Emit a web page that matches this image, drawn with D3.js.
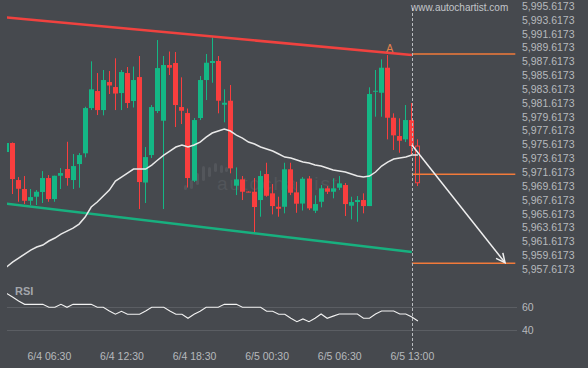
<!DOCTYPE html>
<html>
<head>
<meta charset="utf-8">
<script src="https://cdn.jsdelivr.net/npm/d3@7"></script>
<style>
  html, body { margin: 0; padding: 0; background: #46494e; }
  svg text { font-family: "Liberation Sans", Arial, sans-serif; }
</style>
</head>
<body>
<svg id="chart"></svg>
<script>
// 30 min candles, index 0 .. 68
const open = [
  5974.52, 5975.82, 5970.47, 5969.17, 5967.48, 5968.06, 5968.74, 5970.76, 5967.72, 5971.09,
  5972.06, 5970.47, 5972.78, 5974.33, 5980.87, 5983.33, 5980.58, 5984.63, 5983.91, 5983.04,
  5985.93, 5981.89, 5985.35, 5970.11, 5974.08, 5980.44, 5979.04, 5987.09, 5987.38, 5981.02,
  5980.15, 5970.37, 5979.43, 5984.92, 5987.38, 5987.67, 5981.35, 5981.93, 5969.65, 5970.57,
  5968.80, 5968.78, 5967.58, 5971.34, 5968.55, 5966.61, 5966.61, 5972.02, 5968.69, 5967.07,
  5970.69, 5966.04, 5967.33, 5969.27, 5968.78, 5969.36, 5969.75, 5966.76, 5967.29, 5967.58,
  5966.71, 5983.23, 5983.08, 5986.70, 5979.47, 5976.83, 5976.35, 5979.14, 5975.38];
const close = [
  5975.82, 5970.61, 5969.21, 5967.48, 5968.01, 5968.78, 5970.76, 5967.72, 5971.09, 5971.48,
  5970.76, 5972.49, 5974.08, 5980.87, 5983.58, 5980.58, 5984.92, 5984.13, 5982.97, 5986.08,
  5981.60, 5984.92, 5970.18, 5973.79, 5981.02, 5986.65, 5987.09, 5986.70, 5981.31, 5980.48,
  5970.76, 5979.14, 5984.92, 5987.42, 5987.67, 5981.93, 5981.64, 5972.16, 5970.57, 5968.78,
  5968.70, 5966.57, 5971.05, 5968.20, 5966.71, 5966.32, 5972.02, 5968.64, 5967.05, 5970.66,
  5966.38, 5967.00, 5969.27, 5968.78, 5969.27, 5969.99, 5967.00, 5967.29, 5967.58, 5966.71,
  5982.90, 5983.37, 5986.70, 5979.47, 5976.93, 5976.15, 5979.14, 5975.38, 5970.08];
const high = [
  5975.90, 5975.90, 5970.90, 5971.05, 5969.17, 5969.02, 5971.77, 5971.19, 5971.10, 5972.20,
  5976.00, 5974.23, 5974.37, 5981.06, 5987.62, 5985.93, 5986.37, 5986.22, 5988.06, 5986.37,
  5986.80, 5986.87, 5988.39, 5975.24, 5981.31, 5990.70, 5988.39, 5989.04, 5988.97, 5985.31,
  5980.80, 5979.43, 5985.50, 5988.68, 5991.09, 5988.39, 5983.58, 5984.20, 5972.30, 5971.05,
  5968.85, 5970.76, 5971.81, 5972.97, 5969.89, 5968.06, 5972.97, 5972.97, 5970.22, 5970.90,
  5971.05, 5968.26, 5969.75, 5969.60, 5970.72, 5971.05, 5970.04, 5968.06, 5968.16, 5968.55,
  5983.87, 5986.37, 5987.91, 5988.53, 5980.11, 5979.39, 5981.31, 5981.60, 5976.35];
const low = [
  5974.40, 5968.45, 5967.33, 5967.00, 5966.86, 5966.86, 5967.15, 5967.33, 5967.33, 5969.17,
  5969.65, 5969.17, 5969.36, 5973.75, 5980.58, 5979.86, 5979.82, 5982.90, 5980.58, 5980.58,
  5980.87, 5980.95, 5966.28, 5967.15, 5973.65, 5980.15, 5966.28, 5985.64, 5978.13, 5978.56,
  5969.39, 5970.18, 5979.14, 5982.03, 5984.53, 5980.11, 5978.81, 5971.44, 5968.30, 5967.58,
  5968.70, 5962.77, 5965.17, 5968.06, 5965.51, 5965.17, 5965.66, 5968.30, 5965.74, 5966.06,
  5966.13, 5965.70, 5966.53, 5968.45, 5967.83, 5969.02, 5965.27, 5964.79, 5964.44, 5965.66,
  5966.71, 5979.62, 5979.62, 5976.35, 5974.81, 5974.41, 5975.96, 5974.08, 5969.60];

// moving average (white line)
const maVals = [
  5957.90, 5958.62, 5959.20, 5959.78, 5960.35, 5960.79, 5961.08, 5961.66, 5962.09, 5962.67,
  5963.10, 5963.53, 5964.11, 5965.12, 5966.57, 5967.29, 5968.16, 5969.02, 5970.33, 5970.90,
  5971.48, 5972.06, 5972.06, 5972.06, 5972.64, 5973.36, 5974.08, 5974.66, 5975.24, 5975.53,
  5975.24, 5975.53, 5975.96, 5976.68, 5977.26, 5977.55, 5977.84, 5977.55, 5976.97, 5976.54,
  5975.96, 5975.67, 5975.24, 5974.95, 5974.66, 5974.23, 5973.79, 5973.65, 5973.36, 5973.07,
  5972.93, 5972.64, 5972.49, 5972.20, 5971.91, 5971.77, 5971.63, 5971.34, 5971.05, 5970.90,
  5971.05, 5971.63, 5972.49, 5973.07, 5973.50, 5973.65, 5973.79, 5974.08, 5974.08];

const rsiVals = [
  71.4, 68.2, 64.8, 62.0, 62.0, 62.0, 62.0, 59.5, 59.5, 62.0,
  59.5, 62.0, 62.0, 62.0, 62.0, 59.5, 59.5, 56.4, 53.6, 56.1,
  53.6, 53.6, 53.6, 56.4, 59.5, 59.5, 59.5, 56.4, 53.6, 53.6,
  50.2, 53.6, 56.1, 59.5, 59.5, 59.5, 62.0, 62.0, 62.0, 59.5,
  59.5, 59.5, 59.5, 56.1, 56.1, 53.6, 53.6, 50.2, 47.3, 49.6,
  47.3, 50.2, 53.8, 50.2, 52.0, 53.8, 53.8, 53.8, 53.8, 50.2,
  50.2, 53.8, 56.4, 56.4, 56.4, 53.8, 53.8, 51.3, 47.9];

// pattern lines
const resistIdx = [0, 67], resistPrice = [5993.96, 5988.54];
const supportIdx = [0, 67], supportPrice = [5967.05, 5960.07];
const levelIdx = [67, 84.1], levelPrice = [5988.68, 5971.30, 5958.44];
const forecastIdx = [67, 82.4], forecastPrice = [5975.54, 5958.53];
const patternEnd = 67;

// ticks
const priceTicks = d3.range(0, 20).map(k => 5957.6173 + 2 * k);
const rsiTicks = [40, 60];
const timeIdx = [7, 19, 31, 43, 55, 67];
const timeLabels = ["6/4 06:30", "6/4 12:30", "6/4 18:30", "6/5 00:30", "6/5 06:30", "6/5 13:00"];

const width = 588, height = 368;
const upColor = "#14b785", downColor = "#f93e3e", textColor = "#b6b9bd";

const svg = d3.select("#chart").attr("width", width).attr("height", height);
svg.append("rect").attr("width", width).attr("height", height).attr("fill", "#46494e");

const x = d3.scaleLinear().domain([0, 68]).range([6.5, 417.9]);
const y = d3.scaleLinear().domain([5957.6173, 5995.6173]).range([269, 6]);
const yRsi = d3.scaleLinear().domain([40, 60]).range([330.3, 306.7]);

svg.append("defs").append("clipPath").attr("id", "plot")
  .append("rect").attr("x", 7).attr("y", 0).attr("width", 512).attr("height", 350);

// faint watermark in the middle
const logo = [[184, 185, 190], [190, 180, 189], [196, 173, 185], [202, 166, 181], [208, 167, 177], [214, 163, 172], [220, 165, 173], [225, 167, 172]];
svg.append("g").selectAll("rect").data(logo).join("rect")
  .attr("x", d => d[0]).attr("y", d => d[1])
  .attr("width", 3).attr("height", d => d[2] - d[1])
  .attr("rx", 1.5).attr("fill", "#53565b");
svg.append("text").attr("x", 217).attr("y", 190)
  .attr("font-size", 19).attr("letter-spacing", 2)
  .attr("fill", "#52555a").text("autochartist");

// RSI grid
svg.append("g").selectAll("line").data(rsiTicks).join("line")
  .attr("x1", 7).attr("x2", 517)
  .attr("y1", d => Math.round(yRsi(d)) + 0.5).attr("y2", d => Math.round(yRsi(d)) + 0.5)
  .attr("stroke", "#5b5e63").attr("stroke-width", 1);

const plot = svg.append("g").attr("clip-path", "url(#plot)");

// candles
const candles = open.map((o, i) => ({ i, o, c: close[i], h: high[i], l: low[i] }));
const last = candles.length - 1;
const cx = d => Math.round(x(d.i) - 2.5);

plot.append("g").selectAll("line").data(candles).join("line")
  .attr("x1", d => cx(d) + 2.5).attr("x2", d => cx(d) + 2.5)
  .attr("y1", d => y(d.h)).attr("y2", d => y(d.l))
  .attr("stroke", d => d.c >= d.o ? upColor : downColor).attr("stroke-width", 1);

plot.append("g").selectAll("rect").data(candles).join("rect")
  .attr("x", d => d.i === last ? cx(d) + 0.5 : cx(d))
  .attr("width", d => d.i === last ? 4 : 5)
  .attr("y", d => y(Math.max(d.o, d.c)))
  .attr("height", d => Math.max(1, y(Math.min(d.o, d.c)) - y(Math.max(d.o, d.c))))
  .attr("fill", d => d.i === last ? "#46494e" : (d.c >= d.o ? upColor : downColor))
  .attr("stroke", d => d.i === last ? downColor : "none")
  .attr("stroke-width", 1);

// channel
const seg = (idx, vals) => idx.map((v, k) => [x(v), y(vals[k])]);
plot.append("path").attr("d", d3.line()(seg(resistIdx, resistPrice)))
  .attr("stroke", "#f0423f").attr("stroke-width", 2.5).attr("fill", "none");
plot.append("path").attr("d", d3.line()(seg(supportIdx, supportPrice)))
  .attr("stroke", "#18b07f").attr("stroke-width", 2.5).attr("fill", "none");

// levels
plot.append("g").selectAll("line").data(levelPrice).join("line")
  .attr("x1", x(levelIdx[0])).attr("x2", x(levelIdx[1]))
  .attr("y1", d => y(d)).attr("y2", d => y(d))
  .attr("stroke", "#f27a3a").attr("stroke-width", 1.5);

// moving average
plot.append("path")
  .attr("d", d3.line().x((d, i) => x(i)).y(d => y(d))(maVals))
  .attr("stroke", "#e9e9e9").attr("stroke-width", 1.5).attr("fill", "none");

// RSI
plot.append("path")
  .attr("d", d3.line().x((d, i) => x(i)).y(d => yRsi(d))(rsiVals))
  .attr("stroke", "#f2f2f2").attr("stroke-width", 1.1).attr("fill", "none");

// pattern end marker
svg.append("line")
  .attr("x1", Math.round(x(patternEnd)) + 0.5).attr("x2", Math.round(x(patternEnd)) + 0.5)
  .attr("y1", 8).attr("y2", 350)
  .attr("stroke", "#b9bcc0").attr("stroke-width", 1).attr("stroke-dasharray", "3,2");

// forecast arrow
const a0 = [x(forecastIdx[0]), y(forecastPrice[0])];
const a1 = [x(forecastIdx[1]), y(forecastPrice[1])];
const ang = Math.atan2(a1[1] - a0[1], a1[0] - a0[0]);
const head = 10, spread = 0.45;
svg.append("path")
  .attr("d", d3.line()([a0, a1]))
  .attr("stroke", "#f0f0f0").attr("stroke-width", 1.5).attr("fill", "none");
svg.append("path")
  .attr("d", d3.line()([
    [a1[0] - head * Math.cos(ang - spread), a1[1] - head * Math.sin(ang - spread)],
    a1,
    [a1[0] - head * Math.cos(ang + spread), a1[1] - head * Math.sin(ang + spread)]
  ]))
  .attr("stroke", "#f0f0f0").attr("stroke-width", 1.5).attr("fill", "none");

svg.append("text").attr("x", x(resistIdx[1]) - 22).attr("y", y(resistPrice[1]) - 3)
  .attr("font-size", 10.5).attr("text-anchor", "middle").attr("fill", "#e3834d").text("A");

// axes
const yAxis = svg.append("g").attr("transform", "translate(519,0)")
  .call(d3.axisRight(y).tickValues(priceTicks).tickFormat(d3.format(",.4f")).tickSize(0).tickPadding(3));
const rAxis = svg.append("g").attr("transform", "translate(519,0)")
  .call(d3.axisRight(yRsi).tickValues(rsiTicks).tickSize(0).tickPadding(3));
const xAxis = svg.append("g").attr("transform", "translate(0,350)")
  .call(d3.axisBottom(x).tickValues(timeIdx).tickFormat((d, i) => timeLabels[i]).tickSize(0).tickPadding(3));

[yAxis, rAxis, xAxis].forEach(ax => {
  ax.select(".domain").remove();
  ax.selectAll("text").attr("fill", textColor).attr("font-size", 10.5)
    .attr("font-family", "Liberation Sans, Arial, sans-serif");
});

svg.append("text").attr("x", 15).attr("y", 295)
  .attr("font-size", 11).attr("font-weight", "bold").attr("fill", "#a3a6ab").text("RSI");

svg.append("text").attr("x", 411).attr("y", 11)
  .attr("font-size", 10).attr("fill", "#c3c6ca").text("www.autochartist.com");
</script>
</body>
</html>
